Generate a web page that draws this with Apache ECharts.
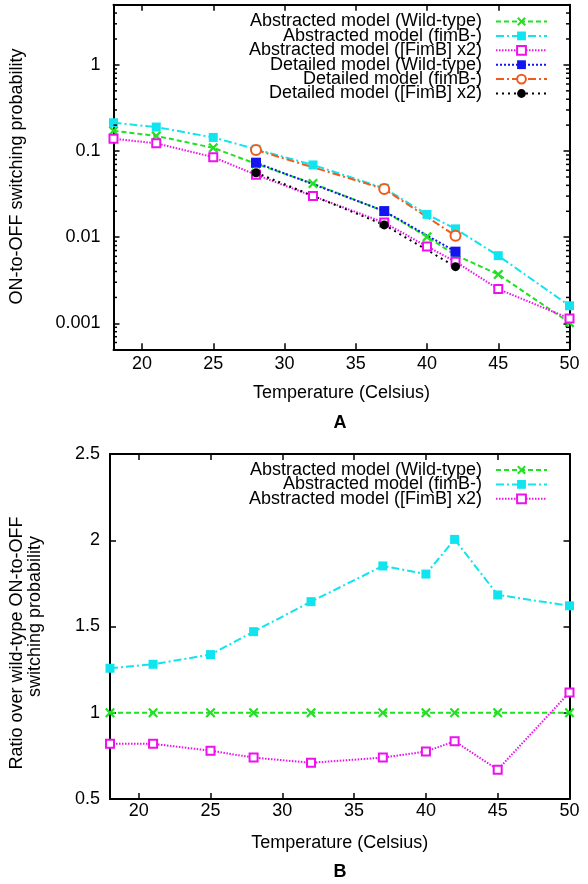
<!DOCTYPE html>
<html><head><meta charset="utf-8">
<script src="https://cdn.jsdelivr.net/npm/echarts@6/dist/echarts.min.js"></script>
<style>html,body{margin:0;padding:0;background:#fff}#c{width:588px;height:884px}</style>
</head><body><div id="c"></div><script>
const temps = [18,21,25,28,32,37,40,42,45,50];
const absWildType = [0.172,0.150,0.109,0.071,0.042,0.0200,0.0101,0.0062,0.0037,0.00102];
const absFimBMinus = [0.213,0.190,0.144,0.105,0.069,0.037,0.0184,0.0125,0.0061,0.00160];
const absFimBx2 = [0.139,0.123,0.085,0.053,0.030,0.0148,0.0078,0.0052,0.0025,0.00114];
const detTemps = [28,37,42];
const detWildType = [0.0733,0.0201,0.0068];
const detFimBMinus = [0.103,0.0363,0.0104];
const detFimBx2 = [0.0561,0.0139,0.00455];
const ratioWildType = [1,1,1,1,1,1,1,1,1,1];
const ratioFimBMinus = [1.258,1.281,1.337,1.47,1.644,1.851,1.804,2.005,1.683,1.62];
const ratioFimBx2 = [0.82,0.82,0.78,0.74,0.71,0.74,0.775,0.835,0.67,1.118];
const xTicks = [20,25,30,35,40,45,50];
const logTicks = [0.001,0.01,0.1,1];
const logMinorTicks = [0.0006,0.0007,0.0008,0.0009,
  0.002,0.003,0.004,0.005,0.006,0.007,0.008,0.009,
  0.02,0.03,0.04,0.05,0.06,0.07,0.08,0.09,
  0.2,0.3,0.4,0.5,0.6,0.7,0.8,0.9,2,3,4];
const names = ['Abstracted model (Wild-type)','Abstracted model (fimB-)','Abstracted model ([FimB] x2)',
  'Detailed model (Wild-type)','Detailed model (fimB-)','Detailed model ([FimB] x2)'];

const FONT = 'Liberation Sans, Arial, Helvetica, sans-serif';
const crossPath = 'path://M0,1.6L1.6,0L5,3.4L8.4,0L10,1.6L6.6,5L10,8.4L8.4,10L5,6.6L1.6,10L0,8.4L3.4,5Z';
const C = {green:'#22e022', cyan:'#10e4ee', magenta:'#ee10ee', blue:'#1414f0', orange:'#f05a1c', black:'#000000'};

function pairs(xs, ys){ return xs.map((x,i)=>[x, ys[i]]); }
function mk(name, xs, ys, color, dash, symbol, size, xi, yi, hollow){
  return {
    name, type:'line', xAxisIndex:xi, yAxisIndex:yi, data:pairs(xs, ys),
    symbol, symbolSize:size, showSymbol:true, showAllSymbol:true,
    lineStyle:{color, width:2, type:dash},
    itemStyle: hollow ? {color, borderColor:color, borderWidth:3} : {color, borderWidth:0},
    emphasis:{disabled:true}, silent:true, z: 2
  };
}
const tickStyle = {color:'#000', width:1.5};
const lineBorder = {show:true, onZero:false, lineStyle:{color:'#000', width:2}};

function xAxes(grid, pos, labels, margin){
  return {
    gridIndex:grid, type:'value', min:18, max:50, position:pos,
    axisLine:lineBorder,
    axisTick:{show:true, inside:true, length:6, lineStyle:tickStyle, customValues:xTicks},
    axisLabel: labels ? {show:true, customValues:xTicks, color:'#000', fontSize:18, fontFamily:FONT, margin} : {show:false},
    splitLine:{show:false},
    name: labels ? 'Temperature (Celsius)' : '', nameLocation:'middle', nameGap:35,
    nameTextStyle:{color:'#000', fontSize:18, fontFamily:FONT}
  };
}
function logAxis(pos, labels){
  return {
    gridIndex:0, type:'log', logBase:10, min:0.0005, max:5, position:pos,
    axisLine: lineBorder,
    axisTick:{show:true, inside:true, length:6, lineStyle:tickStyle, customValues:logTicks},
    axisLabel: labels ? {show:true, customValues:logTicks, color:'#000', fontSize:18, fontFamily:FONT, margin:13,
       formatter: v => String(+v.toPrecision(3))} : {show:false},
    splitLine:{show:false}, minorTick:{show:false}
  };
}
function ratioAxis(pos, labels){
  return {
    gridIndex:1, type:'value', min:0.5, max:2.5, interval:0.5, position:pos,
    axisLine:lineBorder,
    axisTick:{show:true, inside:true, length:6, lineStyle:tickStyle},
    axisLabel: labels ? {show:true, color:'#000', fontSize:18, fontFamily:FONT, margin:10} : {show:false},
    splitLine:{show:false}
  };
}

// minor log ticks on the left and right borders, positioned through the axis scale
const minorTickSeries = {
  type:'custom', xAxisIndex:0, yAxisIndex:0, silent:true, z:5,
  data: logMinorTicks.map(v => [18, v]),
  encode:{x:0, y:1},
  renderItem: function(params, api){
    const v = api.value(1);
    const pL = api.coord([18, v]);
    const pR = api.coord([50, v]);
    return {type:'group', children:[
      {type:'line', shape:{x1:pL[0], y1:pL[1], x2:pL[0]+3.5, y2:pL[1]}, style:{stroke:'#000', lineWidth:1.5}},
      {type:'line', shape:{x1:pR[0], y1:pR[1], x2:pR[0]-3.5, y2:pR[1]}, style:{stroke:'#000', lineWidth:1.5}}
    ]};
  }
};

const legendBase = {orient:'vertical', align:'right', right:40, padding:0, itemGap:-3.6,
     itemWidth:51, itemHeight:11, selectedMode:false,
     textStyle:{color:'#000', fontSize:18, fontFamily:FONT, padding:[0,9,0,0]}};

const option = {
  animation:false,
  backgroundColor:'#fff',
  textStyle:{fontFamily:FONT},
  grid:[
    {left:113.5, right:18.5, top:4.7, height:344.6, containLabel:false},
    {left:110, right:18.5, top:454, height:345, containLabel:false}
  ],
  xAxis:[ xAxes(0,'bottom',true,6), xAxes(0,'top',false), xAxes(1,'bottom',true,3), xAxes(1,'top',false) ],
  yAxis:[ logAxis('left',true), logAxis('right',false), ratioAxis('left',true), ratioAxis('right',false) ],
  legend:[
    Object.assign({data:names, top:12.5}, legendBase),
    Object.assign({data:names.slice(0,3), top:461}, legendBase)
  ],
  graphic:[
    {type:'text', x:340, y:423, style:{text:'A', font:'bold 18px '+FONT, fill:'#000', align:'center', verticalAlign:'middle'}},
    {type:'text', x:340, y:872, style:{text:'B', font:'bold 18px '+FONT, fill:'#000', align:'center', verticalAlign:'middle'}},
    {type:'text', x:17, y:176.5, rotation:Math.PI/2, style:{text:'ON-to-OFF switching probability', font:'18px '+FONT, fill:'#000', align:'center', verticalAlign:'middle'}},
    {type:'text', x:17.5, y:643, rotation:Math.PI/2, style:{text:'Ratio over wild-type ON-to-OFF', font:'18px '+FONT, fill:'#000', align:'center', verticalAlign:'middle'}},
    {type:'text', x:35, y:616.5, rotation:Math.PI/2, style:{text:'switching probability', font:'18px '+FONT, fill:'#000', align:'center', verticalAlign:'middle'}}
  ],
  series:[
    mk(names[0], temps, absWildType, C.green, [5,3], crossPath, 10, 0, 0, false),
    mk(names[1], temps, absFimBMinus, C.cyan, [8,3,2,3], 'rect', 9, 0, 0, false),
    mk(names[2], temps, absFimBx2, C.magenta, [1.5,1.5], 'emptyRect', 8, 0, 0, true),
    mk(names[3], detTemps, detWildType, C.blue, [2,2], 'rect', 10, 0, 0, false),
    mk(names[4], detTemps, detFimBMinus, C.orange, [8,3,2,3], 'emptyCircle', 10, 0, 0, true),
    mk(names[5], detTemps, detFimBx2, C.black, [2,4], 'circle', 9, 0, 0, false),
    mk(names[0], temps, ratioWildType, C.green, [5,3], crossPath, 10, 2, 2, false),
    mk(names[1], temps, ratioFimBMinus, C.cyan, [8,3,2,3], 'rect', 9, 2, 2, false),
    mk(names[2], temps, ratioFimBx2, C.magenta, [1.5,1.5], 'emptyRect', 8, 2, 2, true),
    minorTickSeries
  ]
};
const chart = echarts.init(document.getElementById('c'), null, {renderer:'canvas'});
chart.setOption(option);
</script></body></html>
